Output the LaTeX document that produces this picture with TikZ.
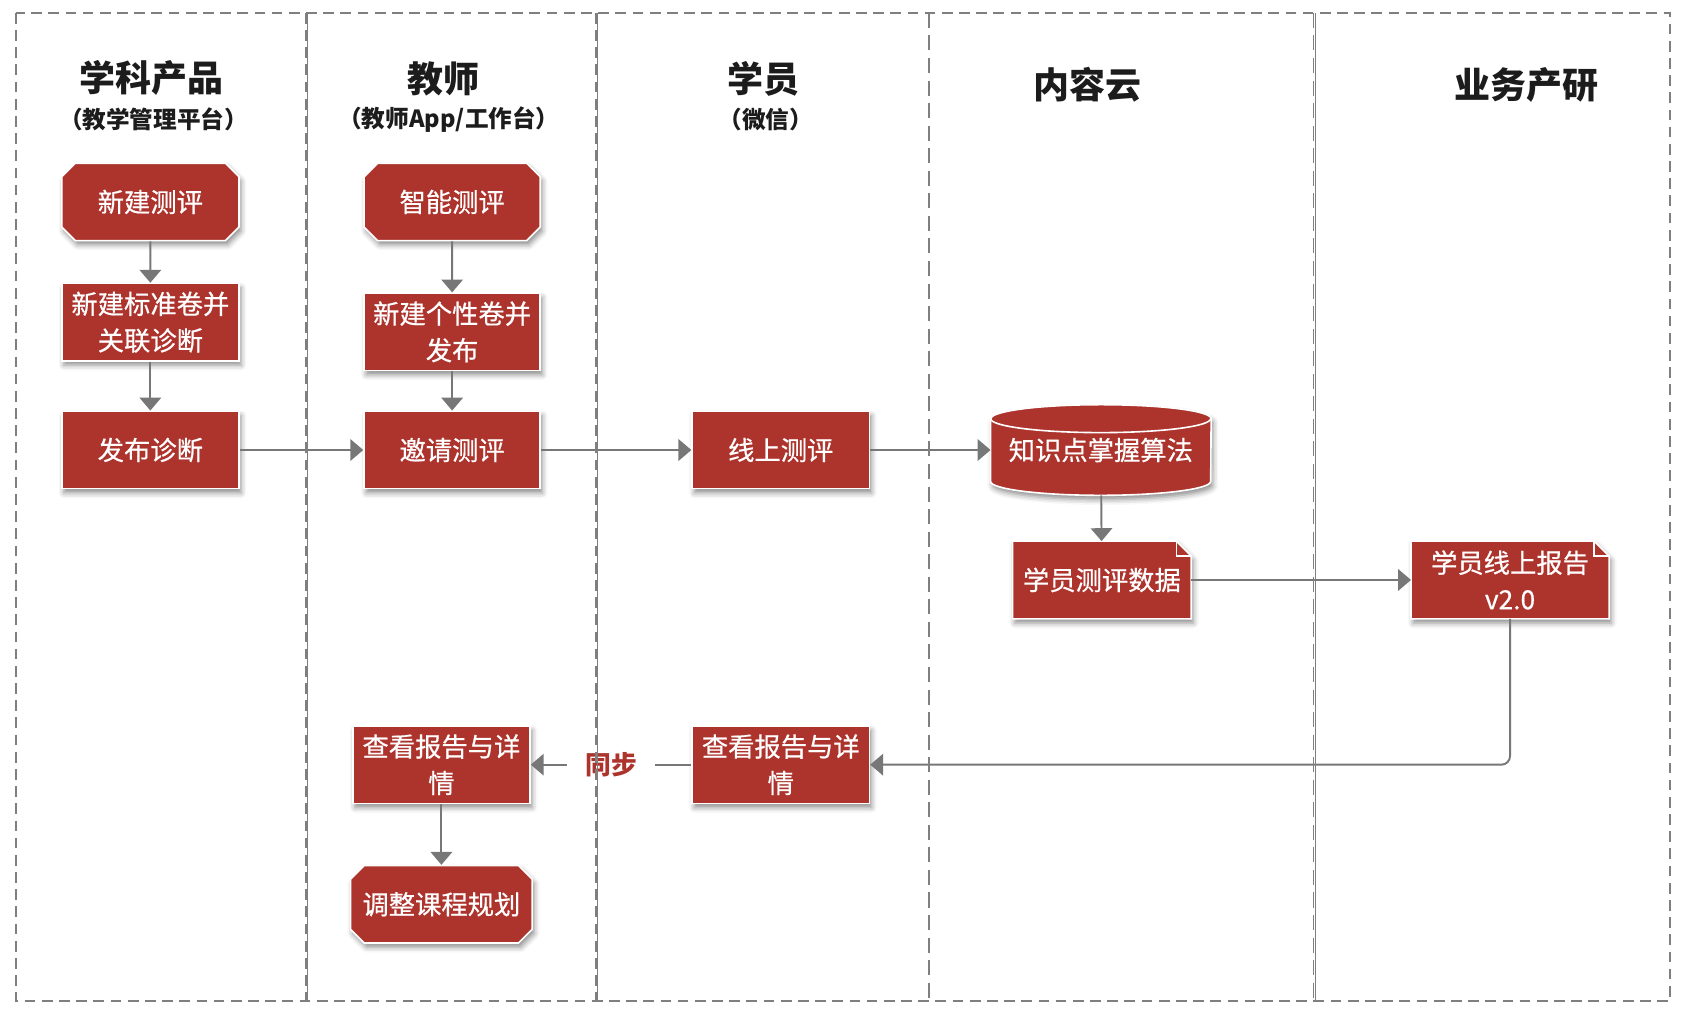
\documentclass[tikz,border=0pt]{standalone}
\usepackage{fontspec}
\setmainfont{Noto Sans CJK SC}
\newfontface\boxfont{Noto Sans CJK SC}[FakeBold=0.6]
\usetikzlibrary{arrows.meta,shapes.misc,shadows.blur,calc}
\definecolor{boxred}{HTML}{AD342D}
\definecolor{lanegray}{HTML}{7F7F7F}
\definecolor{linegray}{HTML}{777777}
\definecolor{headink}{HTML}{1C1C1C}
\pgfdeclarelayer{bg}\pgfdeclarelayer{fg}\pgfsetlayers{bg,main,fg}
\begin{document}
\begin{tikzpicture}[x=1pt,y=-1pt,
  shd/.style={blur shadow={shadow xshift=2pt,shadow yshift=-4pt,shadow blur radius=5pt,shadow opacity=45}},
  boxbase/.style={text=white,align=center,minimum width=165pt,minimum height=72pt,inner sep=2pt,font=\boxfont\fontsize{24.5}{34}\selectfont},
  procbox/.style={boxbase,rectangle,fill=boxred,draw=white,line width=1.5pt,shd},
  termbox/.style={boxbase,chamfered rectangle,chamfered rectangle xsep=9pt,fill=boxred,draw=white,line width=1.5pt,shd},
  docbox/.style={boxbase,rectangle},
  dbbox/.style={boxbase,rectangle,minimum width=205pt,minimum height=84pt},
  conn/.style={draw=linegray,line width=1.8pt,-{Triangle[width=20pt,length=12pt]}},
  headtitle/.style={text=headink,font=\fontsize{33.5}{38}\selectfont\bfseries},
  headsub/.style={text=headink,font=\fontsize{22}{26}\selectfont\bfseries},
  lanedash/.style={draw=lanegray,line width=1.5pt,dash pattern=on 10pt off 6pt},
  lanethin/.style={draw=lanegray,line width=0.8pt},
  lanedash2/.style={draw=lanegray,line width=1.1pt,dash pattern=on 14pt off 7pt},
  synclabel/.style={fill=white,inner xsep=17pt,inner ysep=4pt,text=boxred,font=\fontsize{24}{28}\selectfont\bfseries}
]
\useasboundingbox (0,0) rectangle (1568,946);

% headers
\node[headtitle] (h1) at (141,73) {学科产品};
\node[headsub] (s1) at (143,111) {（教学管理平台）};
\node[headtitle] (h2) at (413,73) {教师};
\node[headsub] (s2) at (418,111) {（教师App/工作台）};
\node[headtitle] (h3) at (711,73) {学员};
\node[headsub] (s3) at (713,111) {（微信）};
\node[headtitle] (h4) at (1013,79) {内容云};
\node[headtitle] (h5) at (1421,79) {业务产研};

% boxes
\node[termbox] (b1) at (140,188) {新建测评};
\node[procbox] (b2) at (140,300) {新建标准卷并\\关联诊断};
\node[procbox] (b3) at (140,419) {发布诊断};
\node[termbox,minimum width=164pt] (b4) at (421,188) {智能测评};
\node[procbox,minimum width=164pt] (b5) at (421,309) {新建个性卷并\\发布};
\node[procbox,minimum width=164pt] (b6) at (421,419) {邀请测评};
\node[procbox] (b7) at (727,419) {线上测评};
\node[dbbox] (db) at (1025,419) {知识点掌握算法};
\node[docbox,minimum width=166pt] (d9) at (1026,540) {学员测评数据};
\node[docbox,minimum width=184pt] (r10) at (1406,540) {学员线上报告\\v2.0};
\node[procbox] (s11) at (727,712) {查看报告与详\\情};
\node[procbox] (t12) at (411,712) {查看报告与详\\情};
\node[termbox] (t13) at (411,842) {调整课程规划};

\begin{pgfonlayer}{bg}
  % cylinder
  \path[fill=boxred,draw=white,line width=1.5pt,shd]
    ($(db.north west)+(0pt,-13pt)$) -- ($(db.south west)+(0pt,13pt)$)
    arc[start angle=180,end angle=360,x radius=102.5pt,y radius=13pt]
    -- ($(db.north east)+(0pt,-13pt)$)
    arc[start angle=0,end angle=180,x radius=102.5pt,y radius=13pt] -- cycle;
  \draw[white,line width=1.5pt] ($(db.north west)+(0pt,-13pt)$)
    arc[start angle=180,end angle=360,x radius=102.5pt,y radius=13pt];
  % documents
  \foreach \d in {d9,r10}{
    \path[fill=boxred,draw=white,line width=1.5pt,shd]
      (\d.north west) -- ($(\d.north east)+(-14pt,0pt)$) -- ($(\d.north east)+(0pt,-14pt)$)
      -- (\d.south east) -- (\d.south west) -- cycle;
    \draw[white,line width=1.2pt] ($(\d.north east)+(-14pt,0pt)$) -- ($(\d.north east)+(-14pt,-14pt)$) -- ($(\d.north east)+(0pt,-14pt)$);
  }
\end{pgfonlayer}

% connectors
\draw[conn] (b1) -- (b2);
\draw[conn] (b2) -- (b3);
\draw[conn] (b3) -- (b6);
\draw[conn] (b4) -- (b5);
\draw[conn] (b5) -- (b6);
\draw[conn] (b6) -- (b7);
\draw[conn] (b7) -- (db);
\draw[conn] (db) -- (d9);
\draw[conn] (d9) -- (r10);
\draw[conn,rounded corners=8pt] (r10.south) |- (s11.east);
\draw[conn] (s11.west) -- node[synclabel] (sync) {同步} (t12.east);
\draw[conn] (t12) -- (t13);

% lanes
\begin{pgfonlayer}{fg}
  \draw[lanedash] (15,12) rectangle (1555,932);
  \draw[lanedash] (285,12) -- (285,932);
  \draw[lanethin] (286.5,12) -- (286.5,932);
  \draw[lanedash] (555,12) -- (555,932);
  \draw[lanethin] (556.5,12) -- (556.5,932);
  \draw[lanedash2] (865,12) -- (865,932);
  \draw[lanedash2] (1223,12) -- (1223,932);
  \draw[lanethin] (1224.5,12) -- (1224.5,932);
\end{pgfonlayer}
\end{tikzpicture}
\end{document}
